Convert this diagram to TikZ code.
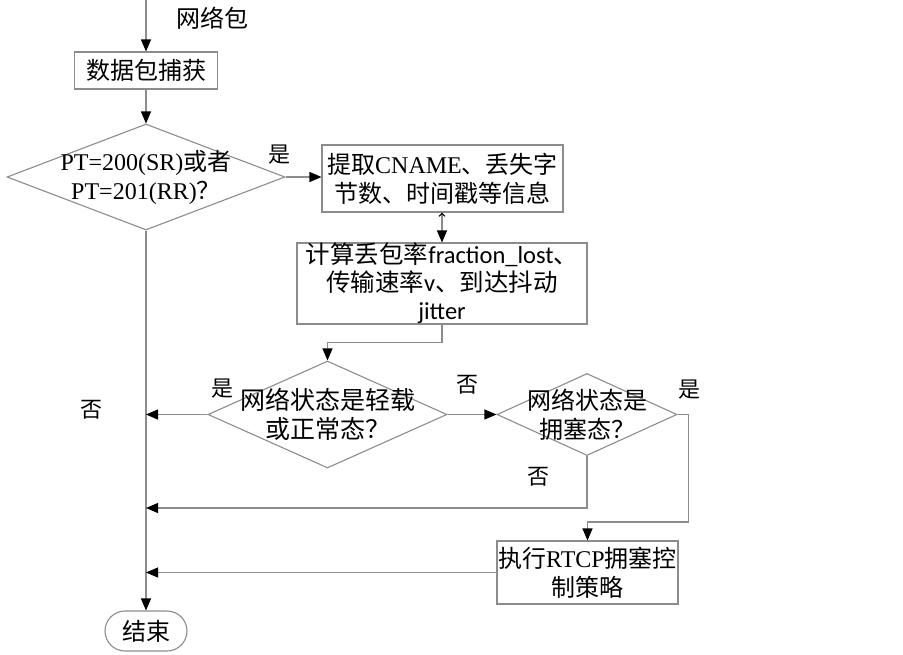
\documentclass[tikz,border=0pt]{standalone}
\usepackage{fontspec}
\setmainfont{Liberation Serif}
\newfontfamily\cjk{Noto Sans CJK SC}
\newfontfamily\calfont{Carlito}
\usetikzlibrary{shapes.geometric,arrows.meta}
\definecolor{linegray}{RGB}{140,140,140}
\newcommand\zh[1]{{\cjk #1}}
\newcommand\lt[1]{{\calfont #1}}
\begin{document}
\begin{tikzpicture}[x=1pt,y=-1pt,
  every node/.style={font=\fontsize{24}{29}\selectfont},
  ln/.style={draw=linegray, line width=1.1pt},
  arr/.style={ln, -{Triangle[length=12pt,width=10pt,color=black]}},
  arrtwo/.style={ln, {Straight Barb[length=3pt,width=6pt,color=black]}-{Triangle[length=12pt,width=10pt,color=black]}},
  box/.style={draw=linegray, line width=1.1pt, rectangle, inner sep=0pt, align=center},
  dia/.style={draw=linegray, line width=1.1pt, diamond, inner sep=0pt},
  dtext/.style={align=center, font=\fontsize{24}{29}\selectfont},
  lab/.style={font=\cjk\fontsize{22}{24}\selectfont}
]
\useasboundingbox (0,0) rectangle (903,654);

\coordinate (top) at (146,0);
\coordinate (j1) at (146,508);

\node[font=\cjk\fontsize{24}{29}\selectfont] (lbl) at (212,18) {网络包};
\node[box, minimum width=143, minimum height=37] (cap) at (146,70.5) {\zh{数据包捕获}};
\node[dia, minimum width=278, minimum height=106,
  label={[dtext]center:PT=200(SR)\zh{或者}\\PT=201(RR)\zh{？}}] (d1) at (146,177) {};
\node[box, minimum width=241, minimum height=67] (ext) at (442.5,178.5)
  {\zh{提取}CNAME\zh{、丢失字}\\\zh{节数、时间戳等信息}};
\node[box, minimum width=290, minimum height=79, font=\fontsize{24.5}{28}\selectfont] (calc) at (442,283.5)
  {\zh{计算丢包率}\lt{fraction\_lost}\zh{、}\\\zh{传输速率}\lt{v}\zh{、到达抖动}\\\lt{jitter}};
\node[dia, minimum width=239, minimum height=107,
  label={[dtext, font=\fontsize{25}{29}\selectfont]center:\zh{网络状态是轻载}\\\zh{或正常态？}}] (d2) at (327.5,414.5) {};
\node[dia, minimum width=180, minimum height=82,
  label={[dtext]center:\zh{网络状态是}\\\zh{拥塞态？}}] (d3) at (587,414.5) {};
\node[box, minimum width=181, minimum height=63] (box4) at (587.5,572.5)
  {\zh{执行}RTCP\zh{拥塞控}\\\zh{制策略}};
\node[draw=linegray, line width=1.1pt, rectangle, rounded corners=20pt,
  minimum width=82, minimum height=40, inner sep=0pt] (end) at (146,631) {\zh{结束}};

\draw[arr] (top) -- (cap.north);
\draw[arr] (cap.south) -- (d1.north);
\draw[arr] (d1.east) -- (d1.east -| ext.west);
\draw[arrtwo] (ext.south -| calc.north) -- (calc.north);
\draw[arr] (calc.south) -- ++(0,18) -| (d2.north);
\draw[arr] (d1.south) -- (end.north);
\draw[arr] (d2.west) -- (d2.west -| top);
\draw[arr] (d2.east) -- (d3.west);
\draw[arr] (d3.east) -- ++(11,0) -- ++(0,107.5) -| (box4.north);
\draw[arr] (d3.south) -- (d3.south |- j1) -- (j1);
\draw[arr] (box4.west) -- (box4.west -| top);

\node[lab] (y1) at (279,155) {是};
\node[lab] (y2) at (222,389) {是};
\node[lab] (n2) at (467,385) {否};
\node[lab] (n1) at (91,410) {否};
\node[lab] (y3) at (689,390) {是};
\node[lab] (n3) at (538,477) {否};
\end{tikzpicture}
\end{document}
